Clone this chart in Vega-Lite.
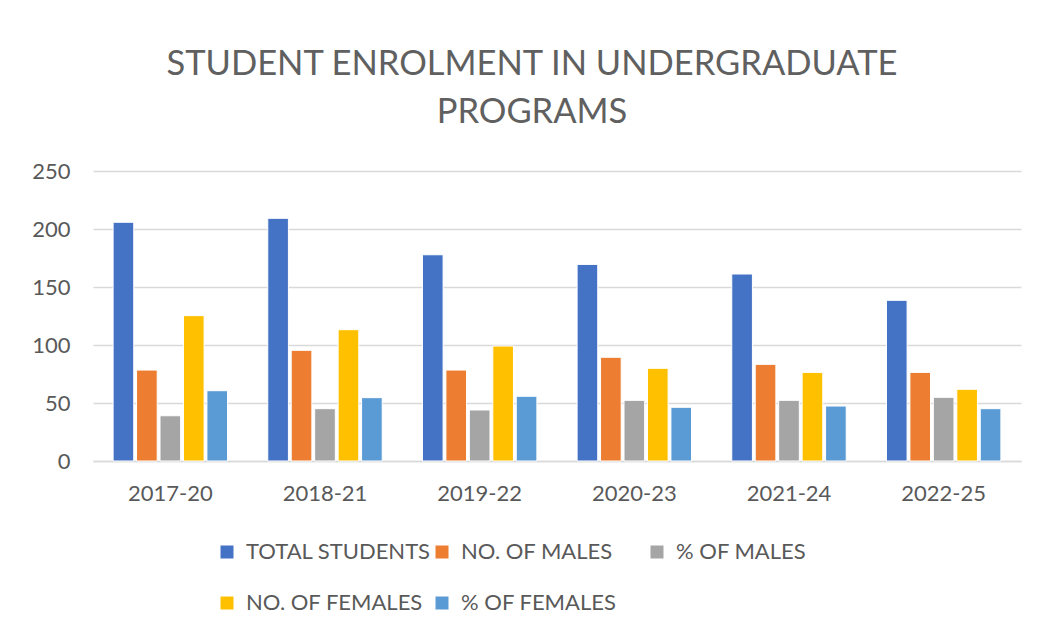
{
  "$schema": "https://vega.github.io/schema/vega-lite/v6.json",
  "width": 928,
  "height": 290,
  "autosize": {"type": "none"},
  "padding": {"left": 93, "top": 171, "right": 22, "bottom": 174},
  "background": "white",
  "title": {
    "text": ["STUDENT ENROLMENT IN UNDERGRADUATE", "PROGRAMS"],
    "font": "Lato",
    "fontSize": 34.5,
    "fontWeight": "normal",
    "color": "#606060",
    "anchor": "middle",
    "dx": -25,
    "lineHeight": 48,
    "offset": 30
  },
  "data": {
    "values": [
      {"period": "2017-20", "series": "TOTAL STUDENTS", "value": 205.8},
      {"period": "2017-20", "series": "NO. OF MALES", "value": 78.4},
      {"period": "2017-20", "series": "% OF MALES", "value": 39.0},
      {"period": "2017-20", "series": "NO. OF FEMALES", "value": 125.3},
      {"period": "2017-20", "series": "% OF FEMALES", "value": 60.6},
      {"period": "2018-21", "series": "TOTAL STUDENTS", "value": 209.2},
      {"period": "2018-21", "series": "NO. OF MALES", "value": 95.4},
      {"period": "2018-21", "series": "% OF MALES", "value": 45.1},
      {"period": "2018-21", "series": "NO. OF FEMALES", "value": 113.2},
      {"period": "2018-21", "series": "% OF FEMALES", "value": 54.6},
      {"period": "2019-22", "series": "TOTAL STUDENTS", "value": 177.8},
      {"period": "2019-22", "series": "NO. OF MALES", "value": 78.4},
      {"period": "2019-22", "series": "% OF MALES", "value": 44.0},
      {"period": "2019-22", "series": "NO. OF FEMALES", "value": 99.1},
      {"period": "2019-22", "series": "% OF FEMALES", "value": 55.8},
      {"period": "2020-23", "series": "TOTAL STUDENTS", "value": 169.5},
      {"period": "2020-23", "series": "NO. OF MALES", "value": 89.4},
      {"period": "2020-23", "series": "% OF MALES", "value": 52.3},
      {"period": "2020-23", "series": "NO. OF FEMALES", "value": 79.9},
      {"period": "2020-23", "series": "% OF FEMALES", "value": 46.3},
      {"period": "2021-24", "series": "TOTAL STUDENTS", "value": 161.2},
      {"period": "2021-24", "series": "NO. OF MALES", "value": 83.3},
      {"period": "2021-24", "series": "% OF MALES", "value": 52.3},
      {"period": "2021-24", "series": "NO. OF FEMALES", "value": 76.4},
      {"period": "2021-24", "series": "% OF FEMALES", "value": 47.4},
      {"period": "2022-25", "series": "TOTAL STUDENTS", "value": 138.5},
      {"period": "2022-25", "series": "NO. OF MALES", "value": 76.4},
      {"period": "2022-25", "series": "% OF MALES", "value": 54.9},
      {"period": "2022-25", "series": "NO. OF FEMALES", "value": 61.8},
      {"period": "2022-25", "series": "% OF FEMALES", "value": 45.1}
    ]
  },
  "mark": {"type": "bar", "stroke": "white", "strokeWidth": 1},
  "encoding": {
    "x": {
      "field": "period",
      "type": "nominal",
      "sort": null,
      "scale": {"paddingInner": 0.26, "paddingOuter": 0.13},
      "axis": {
        "title": null,
        "labelAngle": 0,
        "labelFont": "Lato",
        "labelFontSize": 22,
        "labelColor": "#595959",
        "labelPadding": 22,
        "ticks": false,
        "domainColor": "#d9d9d9",
        "domainWidth": 1.5
      }
    },
    "xOffset": {
      "field": "series",
      "type": "nominal",
      "sort": ["TOTAL STUDENTS", "NO. OF MALES", "% OF MALES", "NO. OF FEMALES", "% OF FEMALES"],
      "scale": {"paddingInner": 0.12, "paddingOuter": 0}
    },
    "y": {
      "field": "value",
      "type": "quantitative",
      "scale": {"domain": [0, 250], "nice": false},
      "axis": {
        "title": null,
        "values": [0, 50, 100, 150, 200, 250],
        "labelFont": "Lato",
        "labelFontSize": 22,
        "labelColor": "#595959",
        "labelPadding": 23,
        "ticks": false,
        "domain": false,
        "gridColor": "#d9d9d9",
        "gridWidth": 1.5
      }
    },
    "color": {
      "field": "series",
      "type": "nominal",
      "sort": ["TOTAL STUDENTS", "NO. OF MALES", "% OF MALES", "NO. OF FEMALES", "% OF FEMALES"],
      "scale": {
        "domain": ["TOTAL STUDENTS", "NO. OF MALES", "% OF MALES", "NO. OF FEMALES", "% OF FEMALES"],
        "range": ["#4472C4", "#ED7D31", "#A5A5A5", "#FFC000", "#5B9BD5"]
      },
      "legend": {
        "title": null,
        "orient": "none",
        "legendX": 123,
        "legendY": 370,
        "padding": 0,
        "direction": "horizontal",
        "columns": 3,
        "gridAlign": "all",
        "symbolType": "square",
        "symbolSize": 169,
        "symbolStrokeWidth": 0,
        "labelFont": "Lato",
        "labelFontSize": 22,
        "labelColor": "#595959",
        "labelOffset": 8,
        "labelLimit": 400,
        "columnPadding": 0,
        "rowPadding": 29
      }
    }
  },
  "config": {
    "view": {"stroke": null}
  }
}
